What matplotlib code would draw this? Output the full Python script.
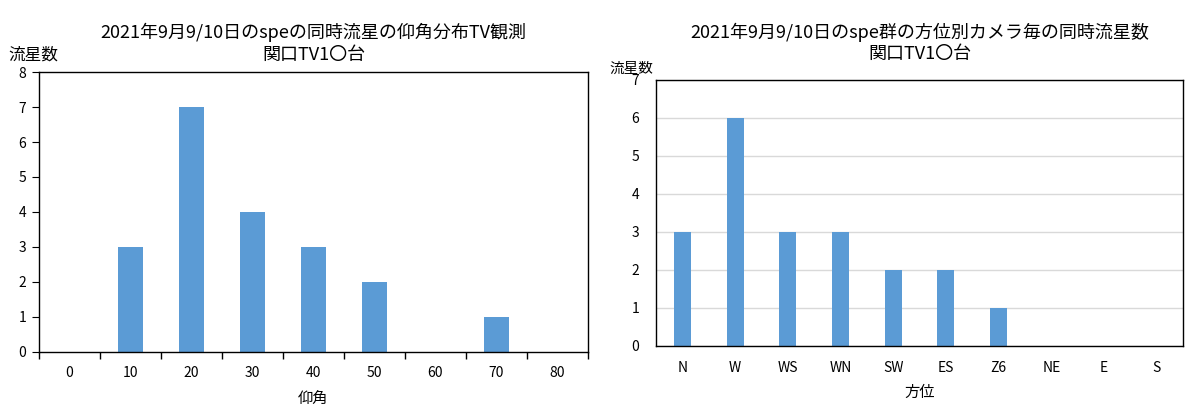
import matplotlib
matplotlib.use("Agg")
import matplotlib.pyplot as plt
import numpy as np

plt.rcParams['font.family'] = ['Noto Sans CJK JP', 'DejaVu Sans']

# left chart: elevation angle distribution
elev_labels = ['0', '10', '20', '30', '40', '50', '60', '70', '80']
elev_counts = [0, 3, 7, 4, 3, 2, 0, 1, 0]

# right chart: counts per camera direction
dir_labels = ['N', 'W', 'WS', 'WN', 'SW', 'ES', 'Z6', 'NE', 'E', 'S']
dir_counts = [3, 6, 3, 3, 2, 2, 1, 0, 0, 0]

title1 = '2021年9月9/10日のspeの同時流星の仰角分布TV観測\n関口TV1〇台'
title2 = '2021年9月9/10日のspe群の方位別カメラ毎の同時流星数\n関口TV1〇台'

blue = '#5B9BD5'

fig = plt.figure(figsize=(12.02, 4.11), dpi=100)

# ---- left ----
ax1 = fig.add_axes([0.0324, 0.1436, 0.4568, 0.6812])
x1 = np.arange(len(elev_labels))
ax1.bar(x1, elev_counts, width=0.41, color=blue, zorder=2)
ax1.set_xlim(-0.5, len(elev_labels) - 0.5)
ax1.set_ylim(0, 8)
ax1.set_yticks(range(0, 9))
ax1.set_xticks(x1)
ax1.set_xticklabels(elev_labels, fontsize=10)
ax1.set_xticks(np.arange(-0.5, len(elev_labels)), minor=True)
ax1.tick_params(axis='x', which='major', length=0, pad=10)
ax1.tick_params(axis='x', which='minor', length=5, direction='out', width=1)
ax1.tick_params(axis='y', length=5, direction='out', labelsize=10, pad=4)
for s in ax1.spines.values():
    s.set_color('black')
    s.set_linewidth(1.0)
ax1.set_xlabel('仰角', fontsize=11, labelpad=7)
ax1.set_title(title1, fontsize=13, pad=9, linespacing=1.25)
ax1.text(-0.055, 1.03, '流星数', transform=ax1.transAxes, fontsize=12,
         ha='left', va='bottom')

# ---- right ----
ax2 = fig.add_axes([0.5458, 0.1582, 0.4384, 0.6472])
x2 = np.arange(len(dir_labels))
ax2.bar(x2, dir_counts, width=0.32, color=blue, zorder=2)
ax2.set_xlim(-0.5, len(dir_labels) - 0.5)
ax2.set_ylim(0, 7)
ax2.set_yticks(range(0, 8))
ax2.set_xticks(x2)
ax2.set_xticklabels(dir_labels, fontsize=10)
ax2.yaxis.grid(True, color='#D9D9D9', linewidth=1, zorder=0)
ax2.set_axisbelow(True)
ax2.tick_params(axis='x', length=0, pad=11)
ax2.tick_params(axis='y', length=0, labelsize=10, pad=12)
for s in ax2.spines.values():
    s.set_color('black')
    s.set_linewidth(1.0)
ax2.set_xlabel('方位', fontsize=11, labelpad=6)
ax2.set_title(title2, fontsize=13, pad=15, linespacing=1.25)
ax2.text(-0.088, 1.015, '流星数', transform=ax2.transAxes, fontsize=10.5,
         ha='left', va='bottom')

fig.savefig('out.png', dpi=100)
